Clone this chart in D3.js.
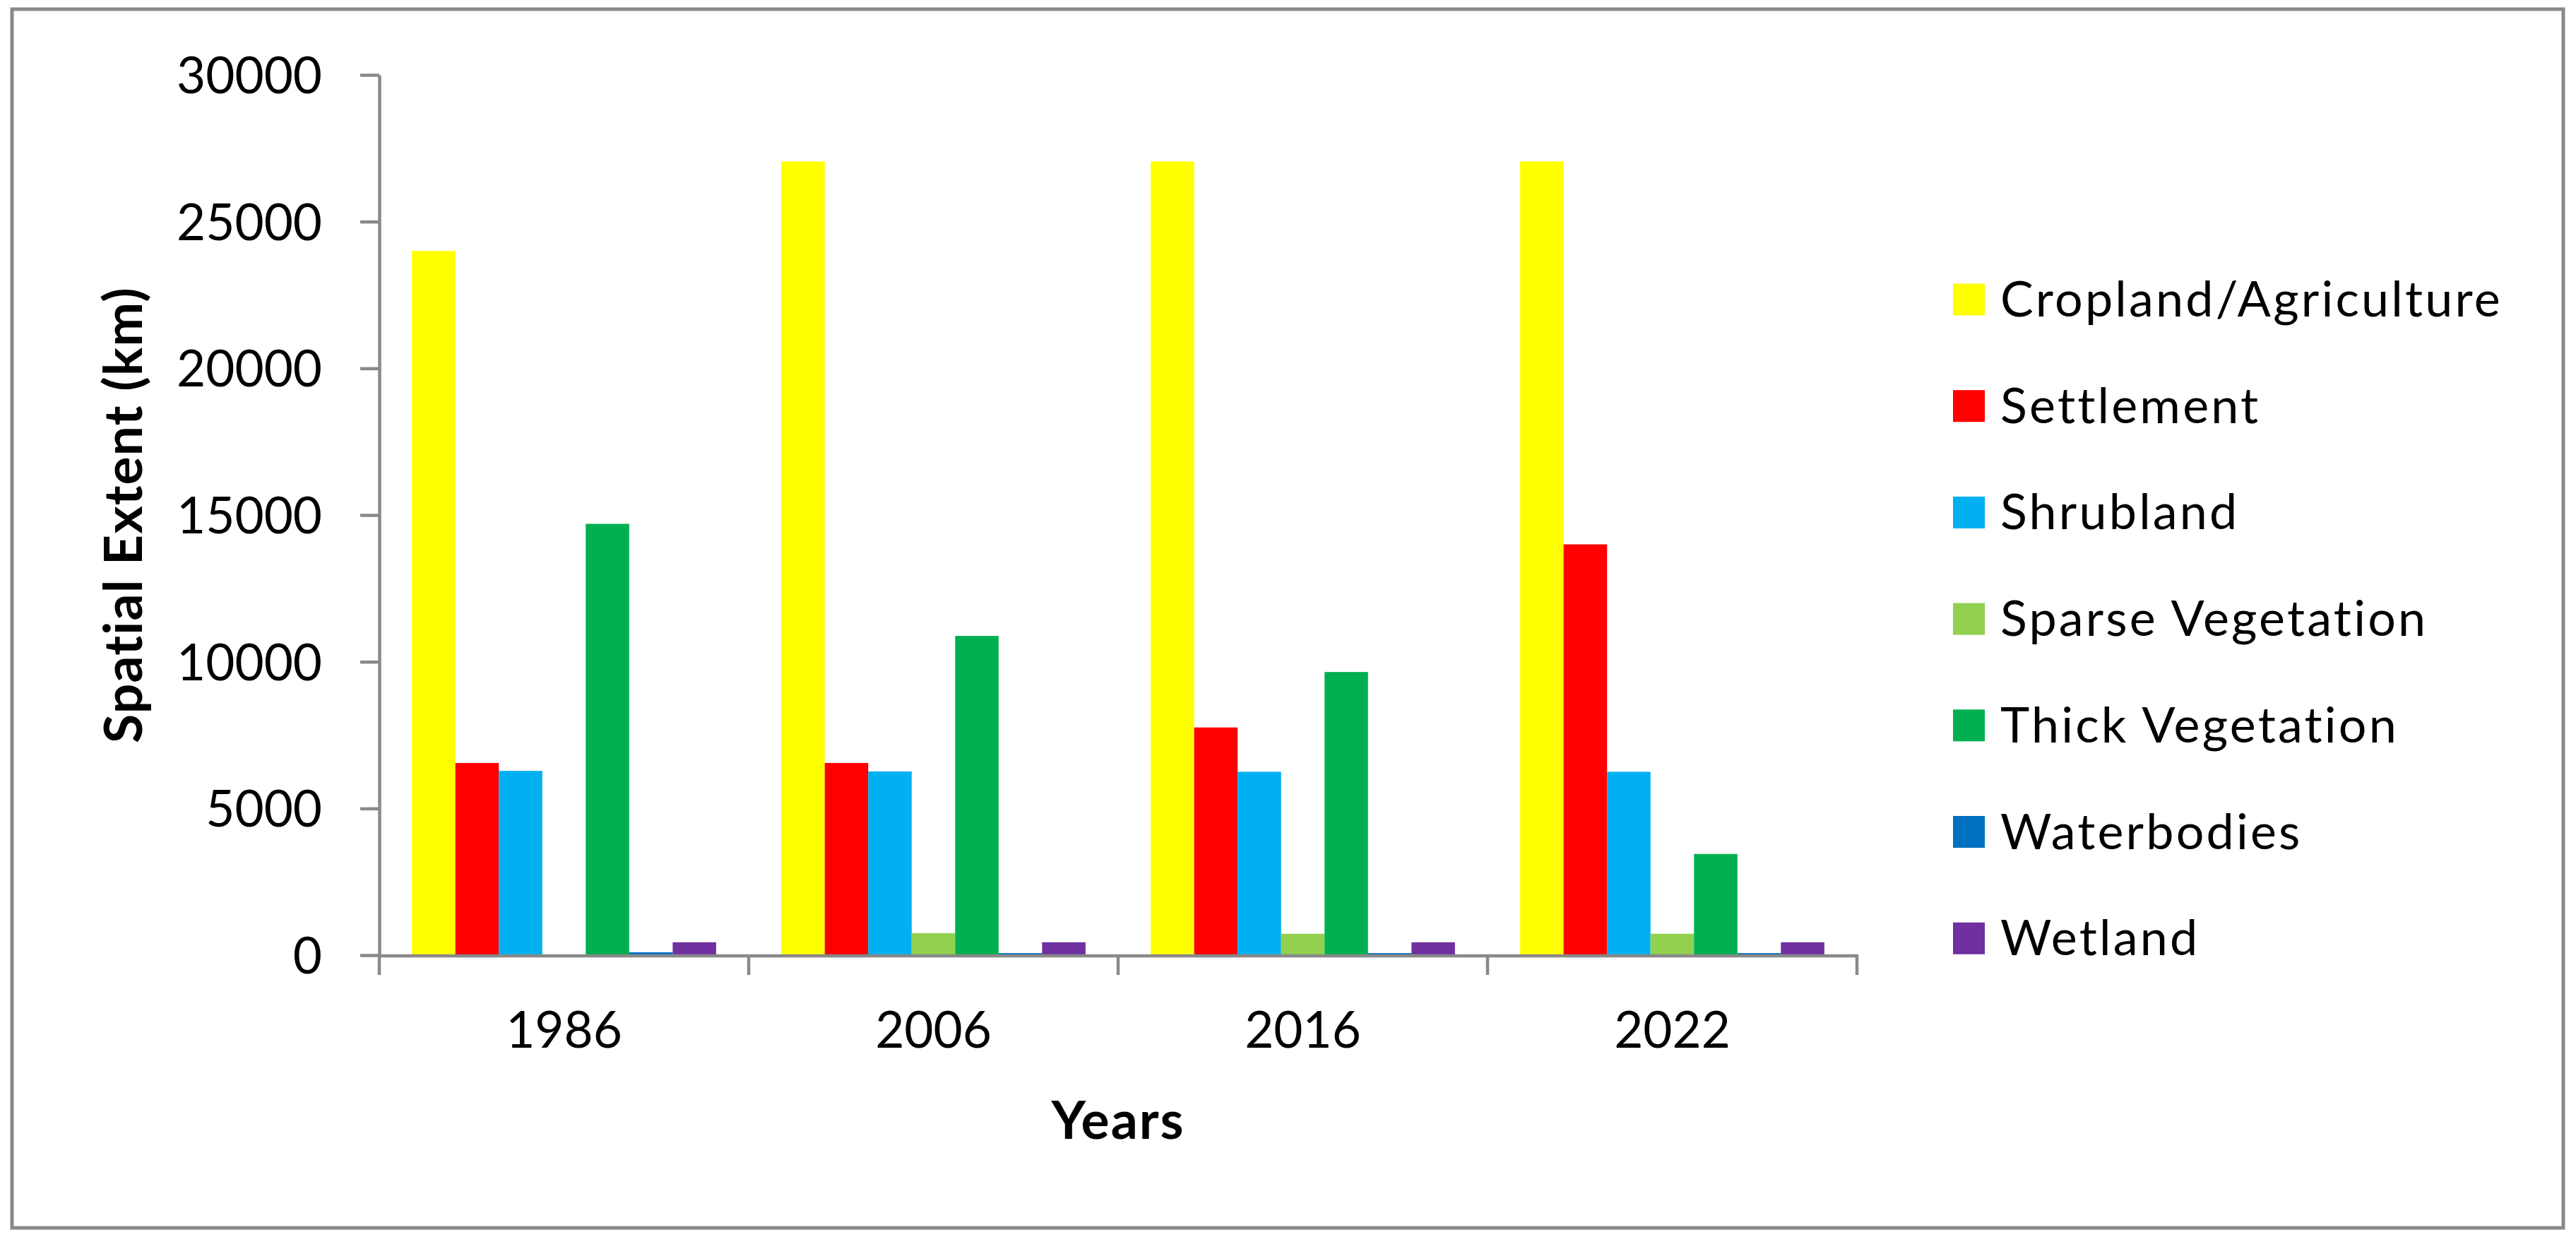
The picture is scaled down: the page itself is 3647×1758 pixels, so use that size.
<!DOCTYPE html>
<html>
<head>
<meta charset="utf-8">
<script src="https://cdn.jsdelivr.net/npm/d3@7/dist/d3.min.js"></script>
<style>
  html, body { margin: 0; padding: 0; background: #ffffff; }
  svg { display: block; }
  text { font-family: Lato, "Open Sans", sans-serif; fill: #000; }
</style>
</head>
<body>
<script>
// ---- data ----
const years = ["1986", "2006", "2016", "2022"];
const seriesNames = ["Cropland/Agriculture", "Settlement", "Shrubland", "Sparse Vegetation", "Thick Vegetation", "Waterbodies", "Wetland"];
const cropland   = [24000, 27050, 27050, 27050];
const settlement = [6550, 6550, 7760, 14000];
const shrubland  = [6280, 6260, 6250, 6250];
const sparseVeg  = [0, 750, 730, 730];
const thickVeg   = [14700, 10880, 9650, 3450];
const waterbodies = [100, 70, 70, 70];
const wetland    = [440, 440, 440, 440];
const yTicks = [0, 5000, 10000, 15000, 20000, 25000, 30000];
const seriesColors = ["#FFFF00", "#FF0000", "#00B0F0", "#92D050", "#00B050", "#0070C0", "#7030A0"];

const seriesValues = [cropland, settlement, shrubland, sparseVeg, thickVeg, waterbodies, wetland];
const table = years.map((y, i) => ({ year: y, values: seriesNames.map((s, j) => ({ key: s, value: seriesValues[j][i], color: seriesColors[j] })) }));

// ---- layout ----
const W = 3647, H = 1758;
const axisColor = "#898989";
const plot = { left: 537, right: 2629, top: 106, bottom: 1352 };

const svg = d3.select("body").append("svg").attr("width", W).attr("height", H);
svg.append("rect").attr("width", W).attr("height", H).attr("fill", "#fff");

// outer chart border
svg.append("rect")
  .attr("x", 17).attr("y", 13).attr("width", 3612).attr("height", 1725)
  .attr("fill", "none").attr("stroke", axisColor).attr("stroke-width", 5);

const x = d3.scaleBand().domain(years).range([plot.left, plot.right]).paddingInner(0).paddingOuter(0);
const xs = d3.scaleBand().domain(seriesNames).range([0, x.bandwidth()]).paddingInner(0).paddingOuter(0.75);
const y = d3.scaleLinear().domain([0, 30000]).range([plot.bottom, plot.top]);

// bars
const groups = svg.append("g").selectAll("g").data(table).join("g")
  .attr("transform", d => `translate(${x(d.year)},0)`);
groups.selectAll("rect").data(d => d.values.filter(v => v.value > 0)).join("rect")
  .attr("x", d => xs(d.key))
  .attr("width", xs.bandwidth())
  .attr("y", d => y(d.value))
  .attr("height", d => y(0) - y(d.value))
  .attr("fill", d => d.color);

// y axis
const yAxis = svg.append("g").attr("transform", `translate(${plot.left},0)`)
  .call(d3.axisLeft(y).tickValues(yTicks).tickFormat(d3.format("d")).tickSize(27).tickSizeOuter(0).tickPadding(54));
yAxis.select(".domain").attr("stroke", axisColor).attr("stroke-width", 4.5);
yAxis.selectAll(".tick line").attr("stroke", axisColor).attr("stroke-width", 4.5);
yAxis.selectAll(".tick text").attr("font-family", "Lato").attr("font-size", 71).attr("fill", "#000").attr("dy", "0.36em");

// x axis
const xAxis = svg.append("g").attr("transform", `translate(0,${plot.bottom + 1})`)
  .call(d3.axisBottom(x).tickSize(0).tickPadding(80));
xAxis.select(".domain").remove();
xAxis.selectAll(".tick text").attr("font-family", "Lato").attr("font-size", 71).attr("fill", "#000").attr("dy", "0.71em");
xAxis.insert("line", ":first-child")
  .attr("x1", plot.left - 2).attr("x2", plot.right + 2).attr("y1", 0).attr("y2", 0)
  .attr("stroke", axisColor).attr("stroke-width", 4.5);
const boundaries = years.map(d => x(d)).concat([x(years[years.length - 1]) + x.bandwidth()]);
xAxis.selectAll("line.bound").data(boundaries).join("line").attr("class", "bound")
  .attr("x1", d => d).attr("x2", d => d).attr("y1", 0).attr("y2", 27)
  .attr("stroke", axisColor).attr("stroke-width", 4.5);

// axis titles
svg.append("text")
  .attr("transform", `translate(201,${(plot.top + plot.bottom) / 2}) rotate(-90)`)
  .attr("text-anchor", "middle").attr("font-weight", "bold").attr("font-size", 75)
  .attr("letter-spacing", 1.2)
  .text("Spatial Extent (km)");
svg.append("text")
  .attr("x", (plot.left + plot.right) / 2).attr("y", 1612)
  .attr("text-anchor", "middle").attr("font-weight", "bold").attr("font-size", 75)
  .attr("letter-spacing", 2)
  .text("Years");

// legend
const legend = svg.append("g").attr("transform", "translate(2765,424)");
const items = legend.selectAll("g").data(seriesNames).join("g")
  .attr("transform", (d, i) => `translate(0,${i * 150.7})`);
items.append("rect").attr("x", 0).attr("y", -22.5).attr("width", 45).attr("height", 45)
  .attr("fill", (d, i) => seriesColors[i]);
items.append("text").attr("x", 67).attr("y", 24).attr("font-size", 70).attr("letter-spacing", 3.2).text(d => d);
</script>
</body>
</html>
